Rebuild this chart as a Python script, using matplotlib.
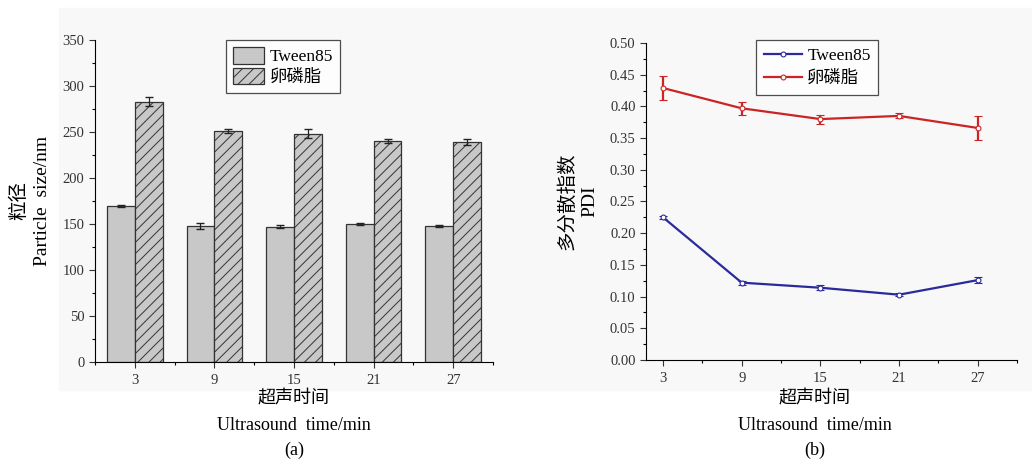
import matplotlib.pyplot as plt
from matplotlib.patches import Rectangle, Patch
from matplotlib.lines import Line2D
from matplotlib.ticker import MultipleLocator

plt.rcParams['font.family'] = ['Liberation Serif', 'Noto Sans CJK SC']
plt.rcParams['hatch.linewidth'] = 0.7

# data
times = [3, 9, 15, 21, 27]
labels = ['Tween85', '卵磷脂']

size_tween = [170, 148, 147, 150, 148]
size_tween_err = [1, 3, 1.5, 0.7, 1]
size_lec = [283, 251, 248, 240, 239]
size_lec_err = [5, 2.5, 5, 2, 3]

pdi_tween = [0.225, 0.122, 0.114, 0.103, 0.126]
pdi_tween_err = [0.002, 0.003, 0.004, 0.002, 0.005]
pdi_lec = [0.429, 0.397, 0.380, 0.385, 0.366]
pdi_lec_err = [0.019, 0.010, 0.007, 0.004, 0.019]

W, H = 1032, 463
fig = plt.figure(figsize=(W / 100, H / 100), dpi=100)
fig.patches.append(Rectangle((59 / W, 1 - 390 / H), 1 - 59 / W, (390 - 8) / H,
                             transform=fig.transFigure, color='#f8f8f8', zorder=-1))


def axes_px(x0, y0, x1, y1):
    return fig.add_axes([x0 / W, 1 - y1 / H, (x1 - x0) / W, (y1 - y0) / H])


def style(ax):
    for s in ['top', 'right']:
        ax.spines[s].set_visible(False)
    ax.set_facecolor('none')
    ax.tick_params(which='major', direction='out', length=4, width=0.8, labelsize=10.5,
                   colors='#333333')
    ax.tick_params(which='minor', direction='out', length=2.5, width=0.8)
    ax.tick_params(axis='x', pad=5)


# (a) particle size
ax1 = axes_px(95, 40, 493, 362)
bw = 2.1
xt = [t - bw / 2 for t in times]
xl = [t + bw / 2 for t in times]
ax1.bar(xt, size_tween, bw, color='#c8c8c8', edgecolor='#333333', lw=0.9)
ax1.bar(xl, size_lec, bw, color='#c8c8c8', edgecolor='#333333', lw=0.9, hatch='///')
ax1.errorbar(xt, size_tween, yerr=size_tween_err, fmt='none', ecolor='#222222',
             elinewidth=0.9, capsize=3)
ax1.errorbar(xl, size_lec, yerr=size_lec_err, fmt='none', ecolor='#222222',
             elinewidth=0.9, capsize=3)
ax1.set_xlim(0, 30)
ax1.set_ylim(0, 350)
ax1.set_xticks(times)
ax1.xaxis.set_minor_locator(plt.FixedLocator([0, 6, 12, 18, 24, 30]))
ax1.yaxis.set_major_locator(MultipleLocator(50))
ax1.yaxis.set_minor_locator(MultipleLocator(25))
style(ax1)
ax1.set_ylabel('粒径\nParticle  size/nm', fontsize=14, linespacing=1.5, labelpad=8)
h1 = [Patch(facecolor='#c8c8c8', edgecolor='#333333', lw=0.9),
      Patch(facecolor='#c8c8c8', edgecolor='#333333', lw=0.9, hatch='///')]
leg = ax1.legend(h1, labels, loc='upper left', bbox_to_anchor=(226 / W, 1 - 40 / H),
                 bbox_transform=fig.transFigure, fontsize=12.5,
                 frameon=True, fancybox=False, edgecolor='#222222', handlelength=1.8,
                 handleheight=1.1, handletextpad=0.3, borderpad=0.4, labelspacing=0.15,
                 borderaxespad=0)
leg.get_frame().set_linewidth(0.9)
fig.text(294 / W, 1 - 399 / H, '超声时间', ha='center', va='center', fontsize=13)
fig.text(294 / W, 1 - 425 / H, 'Ultrasound  time/min', ha='center', va='center', fontsize=13)
fig.text(294 / W, 1 - 450 / H, '(a)', ha='center', va='center', fontsize=13)

# (b) PDI
ax2 = axes_px(646, 43, 1017, 360)
ax2.errorbar(times, pdi_tween, yerr=pdi_tween_err, color='#2a2a9c', lw=1.6,
             marker='o', ms=3.5, mfc='white', mec='#2a2a9c', mew=0.8,
             elinewidth=1.6, capsize=3, capthick=1.6)
ax2.errorbar(times, pdi_lec, yerr=pdi_lec_err, color='#cc2424', lw=1.6,
             marker='o', ms=3.5, mfc='white', mec='#cc2424', mew=0.8,
             elinewidth=1.6, capsize=3, capthick=1.6)
ax2.set_xlim(1.7, 30)
ax2.set_ylim(0, 0.5)
ax2.set_xticks(times)
ax2.xaxis.set_minor_locator(plt.FixedLocator([6, 12, 18, 24, 30]))
ax2.yaxis.set_major_locator(MultipleLocator(0.05))
ax2.yaxis.set_minor_locator(MultipleLocator(0.025))
ax2.yaxis.set_major_formatter(plt.FuncFormatter(lambda v, p: f'{v:.2f}'))
style(ax2)
ax2.set_ylabel('多分散指数\nPDI', fontsize=14, linespacing=1.4, labelpad=8)
h2 = [Line2D([], [], color='#2a2a9c', lw=1.6, marker='o', ms=3.5, mfc='white', mew=0.8),
      Line2D([], [], color='#cc2424', lw=1.6, marker='o', ms=3.5, mfc='white', mew=0.8)]
leg2 = ax2.legend(h2, labels, loc='upper left', bbox_to_anchor=(756 / W, 1 - 40 / H),
                  bbox_transform=fig.transFigure, fontsize=12.5,
                  frameon=True, fancybox=False, edgecolor='#222222', handlelength=2.2,
                  handletextpad=0.3, borderpad=0.45, labelspacing=0.4, borderaxespad=0)
leg2.get_frame().set_linewidth(0.9)
fig.text(815 / W, 1 - 399 / H, '超声时间', ha='center', va='center', fontsize=13)
fig.text(815 / W, 1 - 425 / H, 'Ultrasound  time/min', ha='center', va='center', fontsize=13)
fig.text(815 / W, 1 - 450 / H, '(b)', ha='center', va='center', fontsize=13)

fig.savefig('out.png', dpi=100)
